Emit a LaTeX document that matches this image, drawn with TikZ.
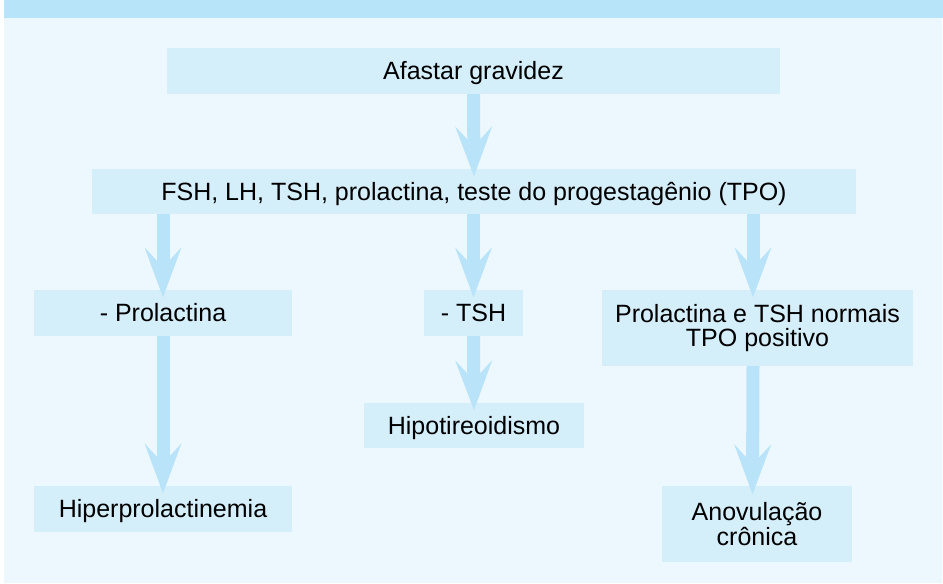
\documentclass[tikz,border=0pt]{standalone}
\usepackage{fontspec}
\setmainfont{Liberation Sans}
\usetikzlibrary{arrows.meta}
\definecolor{faixa}{HTML}{B8E4F9}
\definecolor{fundo}{HTML}{EDF8FE}
\definecolor{caixacor}{HTML}{D4EEFA}
\definecolor{setacor}{HTML}{B9E3F8}
\tikzset{
  bloco/.style={fill=caixacor, inner sep=0pt, align=center, font=\fontsize{25}{24.5}\selectfont},
  linha/.style={text height=21pt, text depth=4pt},
  fluxo/.style={draw=setacor, line width=13pt,
    -{Stealth[length=50pt, width=37pt, inset=20pt, line width=0pt, setacor]}}
}
\begin{document}
\begin{tikzpicture}[x=1pt,y=-1pt] % investigacao da amenorreia
\useasboundingbox (0,0) rectangle (943,584);
\fill[fundo] (4,0) rectangle (942,583);
\fill[faixa] (4,0) rectangle (943,18);
    \node[bloco,linha,minimum width=613pt,minimum height=46pt] (gravidez) at (473.5,71) {Afastar gravidez};
    \node[bloco,linha,minimum width=764pt,minimum height=45pt] (exames) at (474,191.5) {FSH, LH, TSH, prolactina, teste do progestagênio (TPO)};
    \node[bloco,linha,minimum width=258pt,minimum height=46pt] (prl) at (163,313) {- Prolactina};
    \node[bloco,linha,minimum width=99pt,minimum height=46pt] (tsh) at (473.5,313) {- TSH};
    \node[bloco,minimum width=311pt,minimum height=76pt] (normais) at (757.5,328) {Prolactina e TSH normais\\TPO positivo};
    \node[bloco,linha,minimum width=258pt,minimum height=46pt] (hiperprl) at (163,509) {Hiperprolactinemia};
    \node[bloco,linha,minimum width=220pt,minimum height=45pt] (hipot) at (474,425.5) {Hipotireoidismo};
    \node[bloco,minimum width=190pt,minimum height=76pt] (anov) at (757,524) {Anovulação\\crônica};
    \draw[fluxo] (gravidez.south) -- ([yshift=-7.5pt]exames.north);
    \draw[fluxo] (exames.south -| prl.north) -- ([yshift=-7.5pt]prl.north);
    \draw[fluxo] (exames.south -| tsh.north) -- ([yshift=-7.5pt]tsh.north);
    \draw[fluxo] ([xshift=-4.5pt]exames.south -| normais.north) -- ([xshift=-4.5pt,yshift=-7.5pt]normais.north);
    \draw[fluxo] (prl.south) -- ([yshift=-7.5pt]hiperprl.north);
    \draw[fluxo] (tsh.south) -- ([yshift=-7.5pt]hipot.north);
    \draw[fluxo] ([xshift=-4.5pt]normais.south) -- ([xshift=-4.5pt,yshift=-8.5pt]anov.north);
\end{tikzpicture}
\end{document}
